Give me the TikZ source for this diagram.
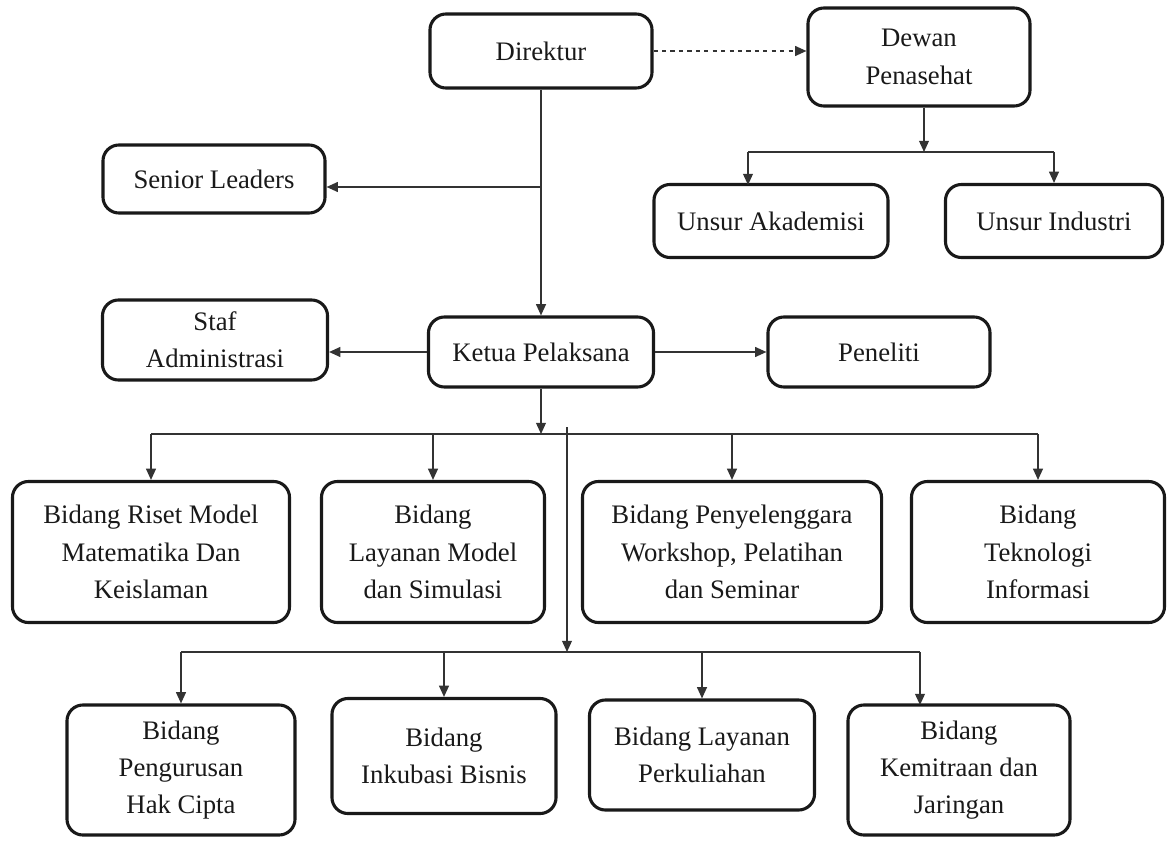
\documentclass[tikz,border=0pt]{standalone}
\usepackage{fontspec}
\setmainfont{Liberation Serif}
\usetikzlibrary{arrows.meta}

\begin{document}
\begin{tikzpicture}[
  x=0.025cm, y=-0.025cm,
  unit/.style={draw=black!90, line width=2.2pt, rounded corners=0.4cm, fill=white,
    align=center, inner sep=2pt, text=black!90, font=\fontsize{19}{26.5}\selectfont},
  link/.style={draw=black!80, line width=1.1pt, -{Triangle[length=8pt,width=7pt]}},
  wire/.style={draw=black!80, line width=1.1pt},
  advise/.style={link, dashed}
]
  \useasboundingbox (0,0) rectangle (1172,841);

  % Top level
  \node[unit, minimum width=5.55cm, minimum height=1.85cm] (direktur) at (541,51) {Direktur};
  \node[unit, minimum width=5.55cm, minimum height=2.45cm] (dewan) at (919,57) {Dewan\\Penasehat};
  \node[unit, minimum width=5.55cm, minimum height=1.7cm] (senior) at (214,179) {Senior Leaders};
  \node[unit, minimum width=5.85cm, minimum height=1.825cm] (akademisi) at (771,221) {Unsur Akademisi};
  \node[unit, minimum width=5.425cm, minimum height=1.825cm] (industri) at (1054,221) {Unsur Industri};

  % Ketua Pelaksana row
  \node[unit, minimum width=5.625cm, minimum height=2cm] (staf) at (215,340) {Staf\\Administrasi};
  \node[unit, minimum width=5.625cm, minimum height=1.75cm] (ketua) at (541,352) {Ketua Pelaksana};
  \node[unit, minimum width=5.55cm, minimum height=1.75cm] (peneliti) at (879,352) {Peneliti};

  % First row of Bidang
  \node[unit, minimum width=6.925cm, minimum height=3.525cm] (riset) at (151,552) {Bidang Riset Model\\Matematika Dan\\Keislaman};
  \node[unit, minimum width=5.575cm, minimum height=3.525cm] (simulasi) at (433,552) {Bidang\\Layanan Model\\dan Simulasi};
  \node[unit, minimum width=7.475cm, minimum height=3.525cm] (workshop) at (732,552) {Bidang Penyelenggara\\Workshop, Pelatihan\\dan Seminar};
  \node[unit, minimum width=6.325cm, minimum height=3.525cm] (teknologi) at (1038,552) {Bidang\\Teknologi\\Informasi};

  % Second row of Bidang
  \node[unit, minimum width=5.7cm, minimum height=3.25cm] (hakcipta) at (181,770) {Bidang\\Pengurusan\\Hak Cipta};
  \node[unit, minimum width=5.6cm, minimum height=2.875cm] (inkubasi) at (444,756) {Bidang\\Inkubasi Bisnis};
  \node[unit, minimum width=5.625cm, minimum height=2.75cm] (kuliah) at (702,755) {Bidang Layanan\\Perkuliahan};
  \node[unit, minimum width=5.55cm, minimum height=3.25cm] (kemitraan) at (959,770) {Bidang\\Kemitraan dan\\Jaringan};

  % Direktur links
  \draw[advise] (direktur.east) -- (direktur.east -| dewan.west);
  \draw[link] (direktur.south) -- (ketua.north);
  \draw[link] (direktur.south |- 0,187) -- (senior.east |- 0,187);

  % Dewan Penasehat branches
  \coordinate (dbus) at (924,152);
  \coordinate (akadin) at (748,185);
  \draw[link] (dbus |- dewan.south) -- (dbus);
  \draw[wire] (akadin |- dbus) -- (industri.north |- dbus);
  \draw[link] (akadin |- dbus) -- (akadin);
  \draw[link] (industri.north |- dbus) -- (industri.north);

  % Ketua Pelaksana links
  \draw[link] (ketua.west) -- (ketua.west -| staf.east);
  \draw[link] (ketua.east) -- (ketua.east -| peneliti.west);

  % bus to first row
  \coordinate (busA) at (541,434);
  \draw[link] (ketua.south) -- (busA);
  \draw[wire] (riset.north |- busA) -- (teknologi.north |- busA);
  \foreach \b in {riset, simulasi, workshop, teknologi}
    \draw[link] (\b.north |- busA) -- (\b.north);

  % bus to second row
  \coordinate (busBtop) at (567,427);
  \coordinate (busB) at (567,652);
  \coordinate (mitrain) at (920,705);
  \draw[link] (busBtop) -- (busB);
  \draw[wire] (hakcipta.north |- busB) -- (mitrain |- busB);
  \foreach \b in {hakcipta, inkubasi, kuliah}
    \draw[link] (\b.north |- busB) -- (\b.north);
  \draw[link] (mitrain |- busB) -- (mitrain);
\end{tikzpicture}
\end{document}
